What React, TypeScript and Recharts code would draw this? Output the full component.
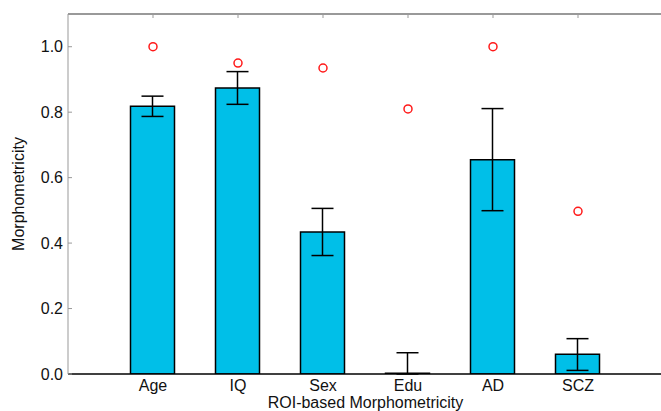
import { Bar, ComposedChart, ErrorBar, Scatter, XAxis, YAxis } from "recharts";

const categories = ["Age", "IQ", "Sex", "Edu", "AD", "SCZ"];
const positions = [1, 2, 3, 4, 5, 6];
const morphometricity = [0.818, 0.874, 0.434, 0.002, 0.655, 0.06];
const errorLow = [0.031, 0.05, 0.072, 0.002, 0.156, 0.049];
const errorHigh = [0.031, 0.05, 0.072, 0.063, 0.156, 0.048];
const upperBound = [1.0, 0.95, 0.935, 0.81, 1.0, 0.497];
const yTicks = [0, 0.2, 0.4, 0.6, 0.8, 1.0];
const yMax = 1.1;

const data = positions.map((x, i) => ({
  x,
  name: categories[i],
  value: morphometricity[i],
  err: [errorLow[i], errorHigh[i]],
  bound: upperBound[i],
}));

const font = "'Liberation Sans', Arial, Helvetica, sans-serif";
const grey = "#999999";

function RedCircle(props: any) {
  const { cx, cy } = props;
  return <circle cx={cx} cy={cy} r={4} fill="none" stroke="#ff1a1a" strokeWidth={1.5} />;
}

function YLabel() {
  return (
    <text
      x={18}
      y={194}
      transform="rotate(-90, 18, 194)"
      textAnchor="middle"
      dominantBaseline="central"
      fontSize={16}
      fontFamily={font}
      fill="#111"
    >
      Morphometricity
    </text>
  );
}

export default function App() {
  return (
    <div style={{ position: "absolute", left: 0, top: 0, width: 661, height: 411, overflow: "hidden", background: "#fff" }}>
      <ComposedChart width={664} height={411} data={data} margin={{ top: 14, right: 1, bottom: 0, left: 0 }}>
        <XAxis
          dataKey="x"
          type="number"
          domain={[0, 7]}
          ticks={positions}
          tickFormatter={(v) => categories[v - 1] ?? ""}
          tickLine={false}
          tickSize={4}
          tickMargin={2}
          height={37}
          axisLine={{ stroke: "#000", strokeWidth: 1.5 }}
          tick={{ fill: "#111", fontSize: 16, fontFamily: font }}
          label={{ value: "ROI-based Morphometricity", position: "insideBottom", offset: 3, fill: "#111", fontSize: 16, fontFamily: font }}
        />
        <XAxis
          xAxisId="top"
          dataKey="x"
          type="number"
          orientation="top"
          mirror
          domain={[0, 7]}
          ticks={positions}
          tickFormatter={() => ""}
          tickSize={4}
          axisLine={{ stroke: grey, strokeWidth: 2 }}
          tickLine={{ stroke: grey }}
        />
        <YAxis
          type="number"
          domain={[0, yMax]}
          ticks={yTicks}
          tickFormatter={(v) => v.toFixed(1)}
          width={68}
          tickSize={-4}
          tickMargin={9}
          axisLine={{ stroke: grey }}
          tickLine={{ stroke: grey }}
          tick={{ fill: "#111", fontSize: 16, fontFamily: font }}
          label={YLabel}
          allowDataOverflow
        />
        <YAxis
          yAxisId="right"
          type="number"
          orientation="right"
          mirror
          domain={[0, yMax]}
          ticks={yTicks}
          tickFormatter={() => ""}
          tickSize={4}
          axisLine={{ stroke: grey }}
          tickLine={{ stroke: grey }}
        />
        <Bar dataKey="value" fill="#00bfe8" stroke="#000" strokeWidth={1.5} barSize={44} isAnimationActive={false}>
          <ErrorBar dataKey="err" width={11} stroke="#000" strokeWidth={1.5} direction="y" />
        </Bar>
        <Scatter xAxisId="top" dataKey="bound" shape={RedCircle} isAnimationActive={false} />
      </ComposedChart>
    </div>
  );
}
